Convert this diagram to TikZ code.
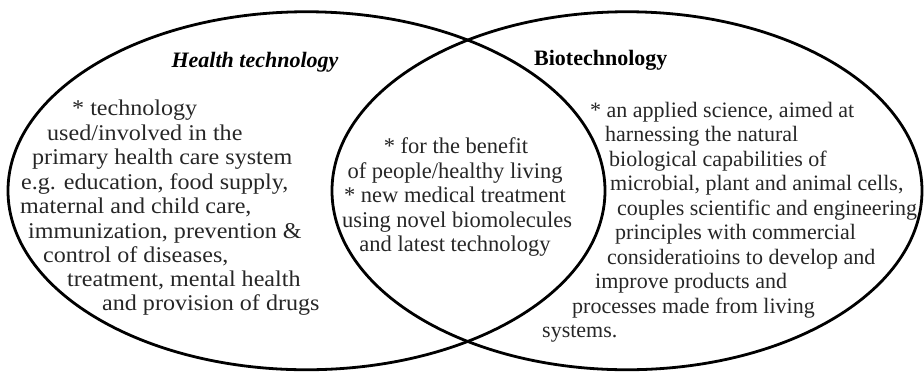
\documentclass[tikz,border=0pt]{standalone}
\usepackage{graphicx}
\usepackage{fontspec}
\setmainfont{Liberation Serif}
\newcommand\lsc[1]{\scalebox{1.07}[1]{#1}}
\begin{document}
\begin{tikzpicture}[x=1pt,y=-1pt,
  ring/.style={line width=2.8pt, draw=black},
  body/.style={inner sep=0pt, text=black!85},
  lline/.style={body, anchor=base west, font=\fontsize{22.5}{24}\selectfont},
  cline/.style={body, anchor=base, font=\fontsize{22.5}{24}\selectfont},
  rline/.style={body, anchor=base west, font=\fontsize{22}{24}\selectfont},
  title/.style={inner sep=0pt, text=black, font=\fontsize{22}{24}\selectfont\bfseries}
]
\useasboundingbox (0,0) rectangle (924,373);
% circles
\draw[ring] (306.5,190.75) ellipse [x radius=298.5pt, y radius=179pt];
\draw[ring] (627,190.75) ellipse [x radius=295pt, y radius=179pt];
% titles
\node[title, anchor=base, font=\fontsize{22}{24}\selectfont\bfseries\itshape] (ht) at (255,67) {Health technology};
\node[title, anchor=base west] (bt) at (534,65) {Biotechnology};
% left block
\node[lline] (l1) at (72,115) {\lsc{* technology}};
\node[lline] (l2) at (47,140) {\lsc{used/involved in the}};
\node[lline] (l3) at (32,164) {\lsc{primary health care system}};
\node[lline] (l4) at (21,189) {\lsc{e.g. education, food supply,}};
\node[lline] (l5) at (20,213) {\lsc{maternal and child care,}};
\node[lline] (l6) at (28,238) {\lsc{immunization, prevention \&}};
\node[lline] (l7) at (43,262) {\lsc{control of diseases,}};
\node[lline] (l8) at (67,286) {\lsc{treatment, mental health}};
\node[lline] (l9) at (102,310) {\lsc{and provision of drugs}};
% centre block
\node[cline] (c1) at (456,153) {* for the benefit};
\node[cline] (c2) at (455,178) {of people/healthy living};
\node[cline] (c3) at (455,202) {* new medical treatment};
\node[cline] (c4) at (457,227) {using novel biomolecules};
\node[cline] (c5) at (455,251) {and latest technology};
% right block
\node[rline] (r1) at (590,117) {* an applied science, aimed at};
\node[rline] (r2) at (605,141.5) {harnessing the natural};
\node[rline] (r3) at (609,166) {biological capabilities of};
\node[rline] (r4) at (610,190.5) {microbial, plant and animal cells,};
\node[rline] (r5) at (617,215) {couples scientific and engineering};
\node[rline] (r6) at (615,239.5) {principles with commercial};
\node[rline] (r7) at (607,264) {consideratioins to develop and};
\node[rline] (r8) at (595,288.5) {improve products and};
\node[rline] (r9) at (572,313) {processes made from living};
\node[rline] (r10) at (542,337.5) {systems.};
\end{tikzpicture}
\end{document}
